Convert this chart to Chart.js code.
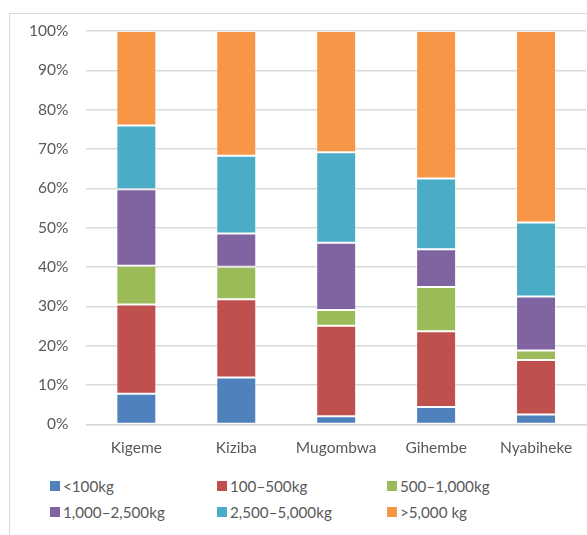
<!DOCTYPE html>
<html>
<head>
<meta charset="utf-8">
<script src="https://cdn.jsdelivr.net/npm/chart.js@4/dist/chart.umd.min.js"></script>
<style>
  html, body { margin: 0; padding: 0; background: #fff; }
  body { width: 587px; height: 535px; position: relative; overflow: hidden; font-family: Lato, "Liberation Sans", sans-serif; }
  #frame { position: absolute; left: 9px; top: 13px; width: 600px; height: 560px; border: 1px solid #d9d9d9; box-sizing: border-box; }
  #wrap { position: absolute; left: 0; top: 0; width: 587px; height: 471px; }
  #legend { position: absolute; left: 0; top: 477px; width: 587px; }
  .item { position: absolute; display: flex; align-items: center; font-size: 15.2px; color: #595959; white-space: nowrap; }
  .sw { width: 10px; height: 10px; margin-right: 3px; }
</style>
</head>
<body>
<div id="frame"></div>
<div id="wrap"><canvas id="c"></canvas></div>
<div id="legend"></div>
<script>
// Share of farmers by harvest size, per camp (percent)
const camps = ["Kigeme", "Kiziba", "Mugombwa", "Gihembe", "Nyabiheke"];
const sizeClasses = ["<100kg", "100\u2013500kg", "500\u20131,000kg", "1,000\u20132,500kg", "2,500\u20135,000kg", ">5,000 kg"];
const under100   = [7.8, 11.9, 2.1, 4.4, 2.5];
const from100    = [22.7, 19.9, 23.0, 19.3, 13.9];
const from500    = [9.8, 8.3, 4.0, 11.2, 2.4];
const from1000   = [19.5, 8.4, 17.1, 9.6, 13.7];
const from2500   = [16.2, 19.8, 23.0, 18.0, 18.8];
const over5000   = [24.0, 31.7, 30.8, 37.5, 48.7];
const yTicks = [0, 10, 20, 30, 40, 50, 60, 70, 80, 90, 100];

const seriesValues = [under100, from100, from500, from1000, from2500, over5000];
const colors = ["#4F81BD", "#C0504D", "#9BBB59", "#8064A2", "#4BACC6", "#F79646"];

const datasets = sizeClasses.map((label, i) => ({
  label,
  data: seriesValues[i],
  backgroundColor: colors[i],
  borderColor: "rgba(255,255,255,0.35)",
  borderWidth: 1,
  borderSkipped: false,
  categoryPercentage: 1,
  barPercentage: 0.4
}));

const tickFont = { family: "Lato, 'Liberation Sans', sans-serif", size: 15.5 };

const chart = new Chart(document.getElementById("c"), {
  type: "bar",
  data: { labels: camps, datasets },
  options: {
    responsive: true,
    maintainAspectRatio: false,
    animation: false,
    layout: { padding: { top: 31, right: 1, left: 11, bottom: 0 } },
    plugins: { legend: { display: false }, tooltip: { enabled: false } },
    scales: {
      x: {
        stacked: true,
        grid: { display: false, drawTicks: false },
        border: { display: true, color: "#d9d9d9", width: 1.5 },
        ticks: { color: "#595959", font: tickFont, padding: 14 }
      },
      y: {
        stacked: true,
        min: 0,
        max: 100,
        afterBuildTicks: (axis) => { axis.ticks = yTicks.map(v => ({ value: v })); },
        grid: { color: "#d9d9d9", lineWidth: 1.5, drawTicks: false },
        border: { display: false },
        ticks: { color: "#595959", font: tickFont, padding: 18, callback: v => v + "%" }
      }
    }
  }
});

// Legend in three fixed columns, built from the chart datasets
const legend = document.getElementById("legend");
const colX = [50, 217, 387];
const rowY = [0, 26];
chart.data.datasets.forEach((ds, i) => {
  const el = document.createElement("div");
  el.className = "item";
  el.style.left = colX[i % 3] + "px";
  el.style.top = rowY[Math.floor(i / 3)] + "px";
  const sw = document.createElement("span");
  sw.className = "sw";
  sw.style.background = ds.backgroundColor;
  const tx = document.createElement("span");
  tx.textContent = ds.label;
  el.appendChild(sw);
  el.appendChild(tx);
  legend.appendChild(el);
});
</script>
</body>
</html>
